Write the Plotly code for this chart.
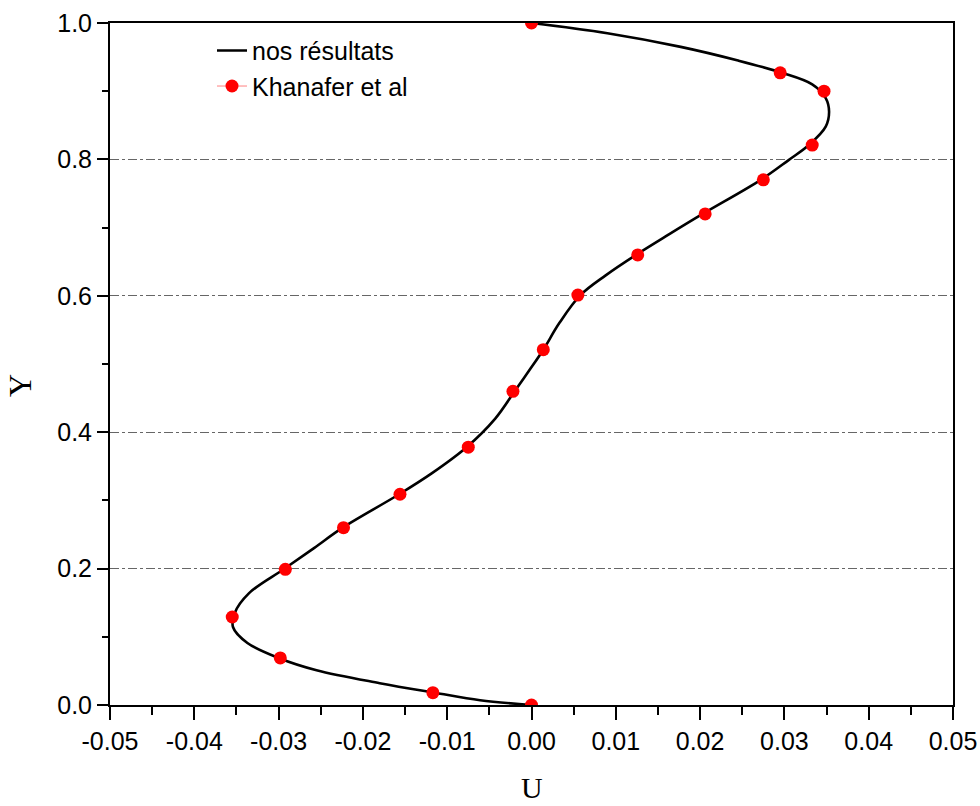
import plotly.graph_objects as go

# Numerical solution (curve): Y and U
curve_Y = [0.0, 0.007, 0.018, 0.032, 0.051, 0.069, 0.091, 0.114, 0.135, 0.164,
           0.199, 0.230, 0.260, 0.309, 0.340, 0.378, 0.420, 0.460, 0.490, 0.521,
           0.560, 0.601, 0.630, 0.660, 0.690, 0.720, 0.770, 0.799, 0.821, 0.848,
           0.870, 0.890, 0.910, 0.927, 0.945, 0.965, 0.985, 1.0]
curve_U = [0.0, -0.0061, -0.0115, -0.0180, -0.0255, -0.0300, -0.0337, -0.0354, -0.0352, -0.0335,
           -0.0294, -0.0258, -0.0224, -0.0157, -0.0118, -0.0077, -0.0043, -0.0020, -0.0003, 0.0014,
           0.0033, 0.0058, 0.0088, 0.0124, 0.0163, 0.0203, 0.0272, 0.0305, 0.0329, 0.0349,
           0.0353, 0.0349, 0.0333, 0.0297, 0.0245, 0.0177, 0.0090, 0.0]

# Khanafer et al reference points
ref_Y = [1.0, 0.927, 0.900, 0.821, 0.770, 0.720, 0.660, 0.601, 0.521, 0.460,
         0.378, 0.309, 0.260, 0.199, 0.129, 0.069, 0.018, 0.0]
ref_U = [0.0, 0.0295, 0.0347, 0.0333, 0.0275, 0.0206, 0.0126, 0.0055, 0.0014, -0.0022,
         -0.0075, -0.0156, -0.0223, -0.0292, -0.0355, -0.0298, -0.0117, 0.0]

x_tickvals = [-0.05, -0.04, -0.03, -0.02, -0.01, 0.0, 0.01, 0.02, 0.03, 0.04, 0.05]
x_ticktext = ["-0.05", "-0.04", "-0.03", "-0.02", "-0.01", "0.00", "0.01", "0.02", "0.03", "0.04", "0.05"]
y_tickvals = [0.0, 0.2, 0.4, 0.6, 0.8, 1.0]
y_ticktext = ["0.0", "0.2", "0.4", "0.6", "0.8", "1.0"]

sans = "Liberation Sans, Arial, sans-serif"
serif = "Liberation Serif, Times New Roman, serif"

fig = go.Figure()
fig.add_trace(go.Scatter(x=curve_U, y=curve_Y, mode="lines", name="nos résultats",
                         line=dict(color="black", width=2.6, shape="spline", smoothing=1.0)))
fig.add_trace(go.Scatter(x=ref_U, y=ref_Y, mode="markers", name="Khanafer et al",
                         marker=dict(color="#ff0000", size=13), showlegend=False))
fig.add_trace(go.Scatter(x=[None], y=[None], mode="lines+markers", name="Khanafer et al",
                         line=dict(color="#ff8080", width=1),
                         marker=dict(color="#ff0000", size=13)))

axis_common = dict(showline=True, linecolor="black", linewidth=2, mirror=True,
                   ticks="outside", tickcolor="black", tickwidth=2, zeroline=False,
                   automargin=False,
                   tickfont=dict(family=sans, size=25, color="black"))

fig.update_xaxes(range=[-0.05, 0.05], tickvals=x_tickvals, ticktext=x_ticktext,
                 ticklen=13, showgrid=False,
                 minor=dict(dtick=0.005, ticks="outside", ticklen=8, tickwidth=2,
                            tickcolor="black", showgrid=False),
                 **axis_common)
fig.update_yaxes(range=[0, 1], tickvals=y_tickvals, ticktext=y_ticktext,
                 ticklen=11, showgrid=True, gridcolor="#666666", gridwidth=1, griddash="dashdot",
                 minor=dict(dtick=0.1, ticks="outside", ticklen=6, tickwidth=2,
                            tickcolor="black", showgrid=False),
                 **axis_common)

fig.update_layout(
    width=980, height=806,
    margin=dict(l=110, r=27, t=23, b=101),
    plot_bgcolor="white", paper_bgcolor="white",
    legend=dict(x=0.121, y=0.993, xanchor="left", yanchor="top",
                font=dict(family=sans, size=25, color="black"),
                bgcolor="rgba(0,0,0,0)", tracegroupgap=0),
    annotations=[
        dict(text="U", xref="paper", yref="paper", x=0.5, y=-0.1475,
             xanchor="center", yanchor="bottom", showarrow=False,
             font=dict(family=serif, size=30, color="black")),
        dict(text="Y", xref="paper", yref="paper", x=-0.107, y=0.469,
             xanchor="center", yanchor="middle", showarrow=False, textangle=-90,
             font=dict(family=serif, size=32, color="black")),
    ],
)

fig.write_html("out.html")
